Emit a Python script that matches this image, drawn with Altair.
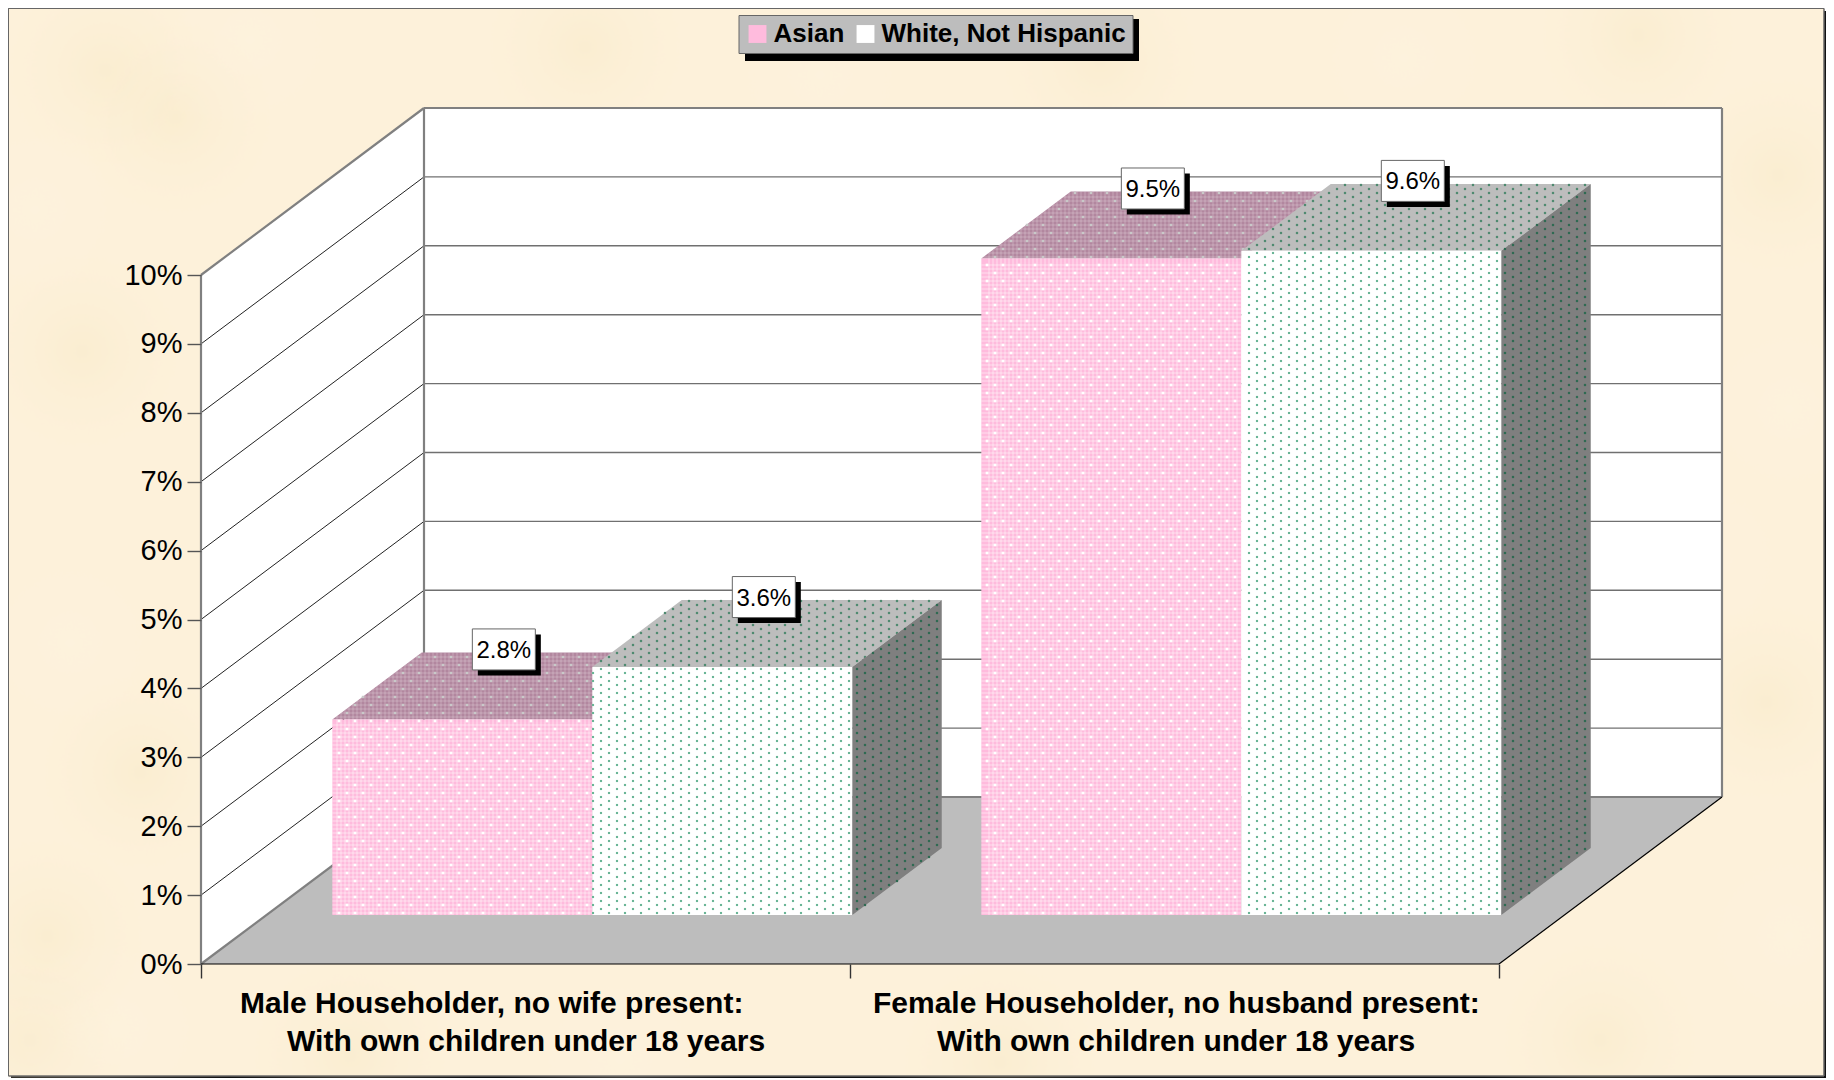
import altair as alt
import numpy as np
import pandas as pd

alt.data_transformers.disable_max_rows()

# ---- data ----
categories = ["Male Householder, no wife present", "Female Householder, no husband present"]
series = ["Asian", "White, Not Hispanic"]
asian = [2.84, 9.53]
white = [3.60, 9.64]
label_lines = [
    ["Male Householder, no wife present:", "With own children under 18 years"],
    ["Female Householder, no husband present:", "With own children under 18 years"],
]
label_left_px = [[240, 287], [873, 937]]
label_base_px = [1013, 1051]
tick_values = list(range(11))
# faint mottling of the paper texture (page pixels)
blotch_x = [105, 175, 35, 82, 70, 140, 47, 117, 585, 1404, 1638, 1778, 1789, 1766, 1789, 350, 820, 1100, 1600, 620, 250, 1700, 30, 1000]
blotch_y = [70, 117, 210, 351, 643, 772, 936, 1029, 47, 58, 35, 175, 409, 702, 936, 1055, 75, 60, 1040, 1060, 40, 560, 1040, 1062]
blotch_tone = ["a", "a", "b", "a", "b", "a", "a", "b", "a", "b", "a", "a", "b", "a", "b", "a", "b", "a", "a", "b", "b", "b", "a", "a"]

# ---- page / projection geometry ----
W, H = 1818, 1070
X0, Y0, CAT, PCT = 201.0, 964.0, 649.0, 68.9
DX, DY = 223.0 / CAT, 167.0 / PCT
GAP, BW, D0, D1 = 0.1017, 0.4006, 0.293, 0.694


def ux(px):
    return (px - X0) / CAT


def uy(py):
    return (Y0 - py) / PCT


def px(u):
    return X0 + u * CAT


def py(v):
    return Y0 - v * PCT


def P(cat, pct, depth):
    return cat + depth * DX, pct + depth * DY


xs = alt.Scale(domain=[ux(8), ux(8 + W)], nice=False, zero=False)
ys = alt.Scale(domain=[uy(8 + H), uy(8)], nice=False, zero=False)
X = alt.X(
    "x:Q",
    scale=xs,
    axis=alt.Axis(
        values=[0, 1, 2],
        labels=False,
        title=None,
        domain=False,
        grid=False,
        tickSize=14,
        tickColor="#333333",
        tickWidth=1.4,
        offset=-(8 + H - Y0),
        zindex=1,
    ),
)
Y = alt.Y(
    "y:Q",
    scale=ys,
    axis=alt.Axis(
        values=tick_values,
        labelExpr="datum.value + '%'",
        title=None,
        domain=False,
        grid=False,
        tickSize=14,
        tickColor="#555555",
        tickWidth=1.4,
        labelFont="Liberation Sans",
        labelFontSize=29,
        labelColor="#000000",
        labelPadding=5,
        offset=-193,
        zindex=1,
    ),
)
Y2 = alt.Y2("y2:Q")
X2 = alt.X2("x2:Q")


def poly_area(top, bottom, **kw):
    rows = [dict(x=t[0], y=t[1], y2=b[1], **kw) for t, b in zip(top, bottom)]
    return rows


def para_horizontal(x0, x1, d, y_front, key):
    yb = y_front + d[1]
    return poly_area(
        [(x0, y_front), (x0 + d[0], yb), (x1, yb), (x1 + d[0], yb)],
        [(x0, y_front), (x0 + d[0], y_front), (x1, y_front), (x1 + d[0], yb)],
        key=key,
    )


def area(rows, color, **enc):
    return alt.Chart(pd.DataFrame(rows)).mark_area(color=color, opacity=1, strokeWidth=0).encode(
        x=X, y=Y, y2=Y2, detail="key:N", **enc
    )


def segs(rows, color, width, opacity=1.0):
    return alt.Chart(pd.DataFrame(rows)).mark_rule(color=color, strokeWidth=width, opacity=opacity).encode(
        x=X, y=Y, x2=X2, y2=Y2
    )


def seg(a, b):
    return dict(x=a[0], y=a[1], x2=b[0], y2=b[1])


def dots(rows, color, size, opacity=1.0):
    return alt.Chart(pd.DataFrame(rows)).mark_square(color=color, size=size, opacity=opacity, strokeWidth=0).encode(
        x=X, y=Y
    )


def inside(poly, x, y):
    n = len(poly)
    sign = 0
    for i in range(n):
        ax, ay = poly[i]
        bx, by = poly[(i + 1) % n]
        c = (bx - ax) * (y - ay) - (by - ay) * (x - ax)
        if c != 0:
            s = 1 if c > 0 else -1
            if sign == 0:
                sign = s
            elif s != sign:
                return False
    return True


def bbox(poly):
    return (
        int(min(p[0] for p in poly)) - 1,
        int(max(p[0] for p in poly)) + 2,
        int(min(p[1] for p in poly)) - 1,
        int(max(p[1] for p in poly)) + 2,
    )


def green_grid(poly):
    pts = []
    xa, xb, ya, yb = bbox(poly)
    for x in range(xa, xb):
        if x % 8 != 1:
            continue
        yo = 5 if x % 16 == 9 else 1
        for y in range(ya, yb):
            if y % 8 == yo and inside(poly, x, y):
                pts.append(dict(x=ux(x), y=uy(y)))
    return pts


def pink_grid(poly):
    pts = []
    xa, xb, ya, yb = bbox(poly)
    for y in range(ya, yb):
        if y % 8 != 1:
            continue
        xo = 3 if y % 16 == 1 else 11
        for x in range(xa, xb):
            if x % 16 == xo and inside(poly, x, y):
                pts.append(dict(x=ux(x), y=uy(y)))
    return pts


def plaid(poly):
    rows = []
    xa, xb, ya, yb = bbox(poly)
    n = len(poly)
    for x in range(xa - xa % 4 + 9, xb - 2, 4):
        cuts = []
        for i in range(n):
            a, b = poly[i], poly[(i + 1) % n]
            if (a[0] - x) * (b[0] - x) <= 0 and a[0] != b[0]:
                t = (x - a[0]) / (b[0] - a[0])
                cuts.append(a[1] + t * (b[1] - a[1]))
        if len(cuts) >= 2:
            rows.append(dict(x=ux(x), x2=ux(x), y=uy(min(cuts)), y2=uy(max(cuts))))
    for y in range(ya - ya % 4 + 9, yb - 2, 4):
        cuts = []
        for i in range(n):
            a, b = poly[i], poly[(i + 1) % n]
            if (a[1] - y) * (b[1] - y) <= 0 and a[1] != b[1]:
                t = (y - a[1]) / (b[1] - a[1])
                cuts.append(a[0] + t * (b[0] - a[0]))
        if len(cuts) >= 2:
            rows.append(dict(x=ux(min(cuts)), x2=ux(max(cuts)), y=uy(y), y2=uy(y)))
    return rows


# ---- panel, frame ----
layers = []
layers.append(
    alt.Chart(pd.DataFrame({"a": [0]})).mark_rect(color="#111111").encode(
        x=alt.value(3), x2=alt.value(W), y=alt.value(3), y2=alt.value(H)
    )
)
layers.append(
    alt.Chart(pd.DataFrame({"a": [0]}))
    .mark_rect(fill="#fdf1da", stroke="#666666", strokeWidth=1)
    .encode(x=alt.value(0.5), x2=alt.value(W - 2), y=alt.value(0.5), y2=alt.value(H - 2))
)

# paper mottling
for tone, col in (("a", "#f0dfb0"), ("b", "#fff4e6")):
    rows = [
        dict(x=ux(a), y=uy(b))
        for a, b, t in zip(blotch_x, blotch_y, blotch_tone)
        if t == tone
    ]
    grad = alt.RadialGradient(
        gradient="radial",
        stops=[
            alt.GradientStop(color=col, offset=0),
            alt.GradientStop(color="rgba(253,241,218,0)", offset=1),
        ],
    )
    layers.append(
        alt.Chart(pd.DataFrame(rows))
        .mark_circle(color=grad, size=60000, opacity=0.22, strokeWidth=0, clip=True)
        .encode(x=X, y=Y)
    )

# re-draw the frame line over the mottling
layers.append(
    alt.Chart(pd.DataFrame({"a": [0]}))
    .mark_rect(fillOpacity=0, stroke="#666666", strokeWidth=1)
    .encode(x=alt.value(0.5), x2=alt.value(W - 2), y=alt.value(0.5), y2=alt.value(H - 2))
)

# ---- walls and floor ----
fl, fr = P(0, 0, 0), P(2, 0, 0)
bl, br = P(0, 0, 1), P(2, 0, 1)
tl, tr = P(0, 10, 1), P(2, 10, 1)
ftl = P(0, 10, 0)
layers.append(area(poly_area([ftl, tl], [fl, bl], key="side"), "#ffffff"))
layers.append(area(poly_area([tl, tr], [bl, br], key="back"), "#ffffff"))
layers.append(area(para_horizontal(0, 2, (DX, DY), 0, "floor"), "#bdbdbd"))

layers.append(segs([seg(P(0, v, 1), P(2, v, 1)) for v in tick_values[1:10]], "#707070", 1.4))
layers.append(segs([seg(P(0, v, 0), P(0, v, 1)) for v in tick_values[1:10]], "#222222", 1.0))
layers.append(segs([seg(fl, bl), seg(ftl, tl), seg(tl, tr), seg(bl, br), seg(bl, tl), seg(br, tr), seg(fl, ftl)], "#808080", 2.2))
layers.append(segs([seg(fl, fr), seg(fr, br)], "#000000", 1.2))

# ---- bars ----
PINK, PINK_DIM = "#ffbbdd", "#b2879f"
values = [asian, white]
faces = {"top": [[], []], "front": [[], []], "side": [[], []]}
pts = {"top": [[], []], "front": [[], []], "side": [[], []]}
stripes = {"top": [], "front": []}
boxes, shadows, texts = [], [], []


def to_px(q):
    return (px(q[0]), py(q[1]))


for c in range(2):
    for s in range(2):
        v = values[s][c]
        x0 = c + GAP + s * BW
        x1 = x0 + BW
        f_l, f_r = P(x0, 0, D0), P(x1, 0, D0)
        ft_l, ft_r = P(x0, v, D0), P(x1, v, D0)
        b_r, bt_l, bt_r = P(x1, 0, D1), P(x0, v, D1), P(x1, v, D1)
        key = f"{c}-{s}"
        faces["front"][s] += [
            dict(x=f_l[0], y=ft_l[1], y2=f_l[1], key=key, series=series[s]),
            dict(x=f_r[0], y=ft_r[1], y2=f_r[1], key=key, series=series[s]),
        ]
        d = (bt_l[0] - ft_l[0], bt_l[1] - ft_l[1])
        faces["top"][s] += para_horizontal(ft_l[0], ft_r[0], d, ft_l[1], key)
        faces["side"][s] += poly_area([ft_r, bt_r], [f_r, b_r], key=key)

        poly_front = [to_px(ft_l), to_px(ft_r), to_px(f_r), to_px(f_l)]
        poly_top = [to_px(ft_l), to_px(bt_l), to_px(bt_r), to_px(ft_r)]
        poly_side = [to_px(ft_r), to_px(bt_r), to_px(b_r), to_px(f_r)]
        if s == 0:
            pts["front"][0] += pink_grid(poly_front)
            pts["top"][0] += pink_grid(poly_top)
            stripes["front"] += plaid(poly_front)
            stripes["top"] += plaid(poly_top)
        else:
            pts["front"][1] += green_grid(poly_front)
            pts["top"][1] += green_grid(poly_top)
            pts["side"][1] += green_grid(poly_side)

        cx = (px(ft_l[0]) + px(ft_r[0])) / 2 + 41.5
        cy = py(bt_l[1]) - 3
        hw, hh = 31.5, 20.5
        shadows.append(dict(x=ux(cx - hw + 5.5), x2=ux(cx + hw + 5.5), y=uy(cy - hh + 5.5), y2=uy(cy + hh + 5.5)))
        boxes.append(dict(x=ux(cx - hw), x2=ux(cx + hw), y=uy(cy - hh), y2=uy(cy + hh)))
        texts.append(dict(x=ux(cx), y=uy(cy + 8.5), t=f"{v:.1f}%"))

layers.append(area(faces["top"][0], PINK_DIM))
layers.append(segs(stripes["top"], "#ffffff", 2, 0.13))
layers.append(dots(pts["top"][0], "#c9c9c9", 6))
layers.append(area(faces["top"][1], "#bdbdbd"))
layers.append(dots(pts["top"][1], "#4f8a70", 5))

color = alt.Color(
    "series:N",
    scale=alt.Scale(domain=series, range=[PINK, "#ffffff"]),
    legend=alt.Legend(
        title=None,
        orient="none",
        legendX=730.5,
        legendY=7,
        direction="horizontal",
        columns=2,
        fillColor="#bdbdbd",
        strokeColor="#666666",
        padding=6,
        symbolType="square",
        symbolSize=320,
        symbolStrokeWidth=0,
        labelFont="Liberation Sans",
        labelFontWeight="bold",
        labelFontSize=26,
        labelColor="#000000",
        labelOffset=3,
        labelLimit=400,
        columnPadding=8,
        zindex=1,
    ),
)
layers.append(
    alt.Chart(pd.DataFrame(faces["front"][0] + faces["front"][1]))
    .mark_area(opacity=1, strokeWidth=0)
    .encode(x=X, y=Y, y2=Y2, detail="key:N", color=color)
)
layers.append(segs(stripes["front"], "#ffffff", 2, 0.25))
layers.append(dots(pts["front"][0], "#ffffff", 7))
layers.append(dots(pts["front"][1], "#6ab596", 4.5))
layers.append(area(faces["side"][1], "#7f7f7f"))
layers.append(dots(pts["side"][1], "#2f6a52", 5))

layers.append(alt.Chart(pd.DataFrame(shadows)).mark_rect(color="#000000").encode(x=X, x2=X2, y=Y, y2=Y2))
layers.append(
    alt.Chart(pd.DataFrame(boxes)).mark_rect(fill="#ffffff", stroke="#666666", strokeWidth=1).encode(x=X, x2=X2, y=Y, y2=Y2)
)
layers.append(
    alt.Chart(pd.DataFrame(texts))
    .mark_text(font="Liberation Sans", fontSize=24, color="#000000", align="center", baseline="alphabetic")
    .encode(x=X, y=Y, text="t:N")
)

cat_rows = []
for c in range(2):
    for i in range(2):
        cat_rows.append(dict(x=ux(label_left_px[c][i]), y=uy(label_base_px[i]), t=label_lines[c][i]))
layers.append(
    alt.Chart(pd.DataFrame(cat_rows))
    .mark_text(font="Liberation Sans", fontSize=30, fontWeight="bold", color="#000000", align="left", baseline="alphabetic")
    .encode(x=X, y=Y, text="t:N")
)

layers.append(
    alt.Chart(pd.DataFrame({"a": [0]})).mark_rect(color="#000000").encode(
        x=alt.value(737), x2=alt.value(1131), y=alt.value(11), y2=alt.value(53)
    )
)

chart = (
    alt.layer(*layers)
    .properties(
        width=W,
        height=H,
        padding=0,
        background="#ffffff",
        autosize=alt.AutoSizeParams(type="none"),
    )
    .configure_view(stroke=None)
)

chart.save("out.html", embed_options={"renderer": "svg", "actions": False})
